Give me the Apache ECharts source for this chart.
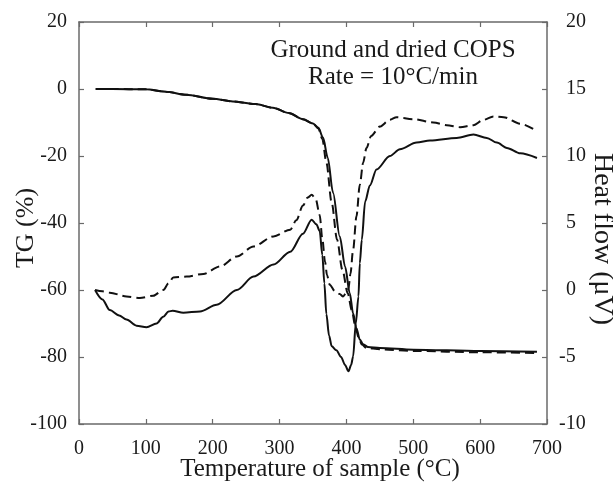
<!DOCTYPE html>
<html>
<head>
<meta charset="utf-8">
<script src="https://cdn.jsdelivr.net/npm/echarts@6/dist/echarts.min.js"></script>
<style>
html,body{margin:0;padding:0;background:#fff;}
#c{width:613px;height:483px;}
</style>
</head>
<body>
<div id="c"></div>
<script>
// ---- data ----
var xTicks = [0, 100, 200, 300, 400, 500, 600, 700];
var tgTicks = [-100, -80, -60, -40, -20, 0, 20];
var hfTicks = [-10, -5, 0, 5, 10, 15, 20];

var tgSolidT = [25, 50, 100, 130, 160, 200, 230, 264, 290, 314, 335, 350, 358, 365, 372, 380, 390, 398, 405, 410, 415, 420, 425, 432, 450, 500, 600, 685];
var tgSolidV = [0, 0, -0.1, -0.8, -1.7, -2.9, -3.7, -4.5, -5.6, -7.2, -9.0, -10.3, -11.6, -14.5, -20.5, -31, -44, -53, -61, -67, -71.5, -74.8, -76.2, -77.0, -77.3, -77.8, -78.2, -78.4];

var tgDashT = [25, 50, 100, 130, 160, 200, 230, 264, 290, 314, 335, 350, 358, 364, 370, 378, 386, 394, 402, 408, 413, 418, 423, 430, 450, 500, 600, 685];
var tgDashV = [0, 0, -0.1, -0.8, -1.7, -2.9, -3.7, -4.5, -5.6, -7.2, -9.0, -10.3, -11.8, -15, -22, -34, -45, -54, -61, -66, -70.5, -74, -76.3, -77.3, -77.7, -78.2, -78.6, -78.8];

var hfSolidT = [24, 35, 46, 60, 71, 86, 101, 116, 126, 134, 140, 156, 181, 206, 236, 261, 291, 316, 335, 348, 355, 360, 364, 367, 370, 374, 378, 385, 392, 398, 403, 407, 410, 414, 418, 420, 423, 428, 435, 445, 465, 480, 505, 525, 565, 590, 610, 625, 640, 660, 685];
var hfSolidV = [0, -0.7, -1.5, -1.9, -2.2, -2.66, -2.78, -2.5, -2.0, -1.6, -1.55, -1.7, -1.6, -1.1, 0.0, 1.0, 1.9, 2.85, 4.2, 5.25, 4.9, 4.4, 2.6, 0.5, -1.8, -3.4, -4.2, -4.5, -5.0, -5.6, -6.07, -5.6, -4.96, -2.5, -0.48, 2.0, 3.75, 6.6, 7.8, 9.0, 10.0, 10.5, 11.0, 11.15, 11.35, 11.6, 11.35, 11.0, 10.6, 10.2, 9.85];

var hfDashT = [24, 35, 46, 71, 91, 111, 126, 134, 141, 161, 186, 211, 236, 261, 291, 316, 325, 335, 342, 348, 354, 360, 364, 368, 371, 375, 383, 390, 395, 400, 403, 406, 410, 415, 420, 425, 430, 437, 450, 465, 475, 500, 530, 550, 570, 590, 605, 620, 635, 660, 685];
var hfDashV = [0, -0.1, -0.2, -0.48, -0.6, -0.43, 0.0, 0.5, 0.94, 1.0, 1.2, 1.76, 2.5, 3.25, 4.0, 4.5, 5.2, 6.3, 6.9, 7.1, 6.8, 5.6, 3.8, 2.1, 1.1, 0.4, -0.1, -0.3, -0.48, -0.2, 0.1, 1.2, 3.0, 5.5, 7.85, 9.5, 10.6, 11.5, 12.2, 12.7, 12.9, 12.75, 12.5, 12.3, 12.15, 12.3, 12.7, 12.95, 12.9, 12.4, 11.85];

var titleLines = ['Ground and dried COPS', 'Rate = 10°C/min'];
var xName = 'Temperature of sample (°C)';
var tgName = 'TG (%)';
var hfName = 'Heat flow (μV)';

function pairs(t, v) { return t.map(function (x, i) { return [x, v[i]]; }); }

var FONT = 'Liberation Serif, Times New Roman, serif';
var AXC = '#6a6a6a';
var TXT = '#1a1a1a';
var LINE = '#111';

var chart = echarts.init(document.getElementById('c'), null, { renderer: 'canvas' });

var tickStyle = { show: true, inside: true, length: 5, lineStyle: { color: AXC, width: 1.2 } };
var axLine = { show: true, onZero: false, lineStyle: { color: AXC, width: 1.5 } };
var lbl = { color: TXT, fontFamily: FONT, fontSize: 20 };

var option = {
  animation: false,
  backgroundColor: '#fff',
  grid: { left: 79, top: 22, width: 468, height: 402, containLabel: false, outerBoundsMode: 'none' },
  xAxis: [{
    type: 'value', position: 'bottom', min: xTicks[0], max: xTicks[xTicks.length - 1], interval: 100,
    axisLine: axLine, axisTick: tickStyle, splitLine: { show: false },
    axisLabel: Object.assign({ margin: 15 }, lbl),
    name: xName, nameLocation: 'middle', nameGap: 33, nameMoveOverlap: false,
    nameTextStyle: { color: TXT, fontFamily: FONT, fontSize: 25, padding: [0, 0, 0, 14] }
  }, {
    type: 'value', position: 'top', min: xTicks[0], max: xTicks[xTicks.length - 1], interval: 100,
    axisLine: axLine, axisTick: tickStyle, splitLine: { show: false }, axisLabel: { show: false }
  }],
  yAxis: [{
    type: 'value', position: 'left', min: tgTicks[0], max: tgTicks[tgTicks.length - 1], interval: 20,
    axisLine: axLine, axisTick: tickStyle, splitLine: { show: false },
    axisLabel: Object.assign({ margin: 12 }, lbl),
    name: tgName, nameLocation: 'middle', nameGap: 40, nameRotate: 90, nameMoveOverlap: false,
    nameTextStyle: { color: TXT, fontFamily: FONT, fontSize: 26, padding: [0, 10, 0, 0] }
  }, {
    type: 'value', position: 'right', min: hfTicks[0], max: hfTicks[hfTicks.length - 1], interval: 5,
    axisLine: axLine, axisTick: tickStyle, splitLine: { show: false },
    axisLabel: Object.assign({
      margin: 12,
      formatter: function (v) { return v < 0 ? '{n|' + v + '}' : '{p|' + v + '}'; },
      rich: {
        n: { color: TXT, fontFamily: FONT, fontSize: 20 },
        p: { color: TXT, fontFamily: FONT, fontSize: 20, padding: [0, 0, 0, 7] }
      }
    }, lbl),
    name: hfName, nameLocation: 'middle', nameGap: 41, nameRotate: -90, nameMoveOverlap: false,
    nameTextStyle: { color: TXT, fontFamily: FONT, fontSize: 28, padding: [0, 0, 0, 32] }
  }],
  graphic: [
    { type: 'text', x: 393, y: 50, style: { text: titleLines[0], fill: TXT, font: '25px ' + FONT, align: 'center', verticalAlign: 'middle' } },
    { type: 'text', x: 393, y: 77, style: { text: titleLines[1], fill: TXT, font: '25px ' + FONT, align: 'center', verticalAlign: 'middle' } }
  ],
  series: [
    { name: 'TG dashed', type: 'line', xAxisIndex: 0, yAxisIndex: 0, data: pairs(tgDashT, tgDashV), symbol: 'none', smooth: 0.3, smoothMonotone: 'x', lineStyle: { color: LINE, width: 2, type: [9, 5] } },
    { name: 'TG solid', type: 'line', xAxisIndex: 0, yAxisIndex: 0, data: pairs(tgSolidT, tgSolidV), symbol: 'none', smooth: 0.3, smoothMonotone: 'x', lineStyle: { color: LINE, width: 2 } },
    { name: 'HF dashed', type: 'line', xAxisIndex: 0, yAxisIndex: 1, data: pairs(hfDashT, hfDashV), symbol: 'none', smooth: 0.3, smoothMonotone: 'x', lineStyle: { color: LINE, width: 2, type: [9, 5] } },
    { name: 'HF solid', type: 'line', xAxisIndex: 0, yAxisIndex: 1, data: pairs(hfSolidT, hfSolidV), symbol: 'none', smooth: 0.3, smoothMonotone: 'x', lineStyle: { color: LINE, width: 2 } }
  ]
};
chart.setOption(option);
</script>
</body>
</html>
